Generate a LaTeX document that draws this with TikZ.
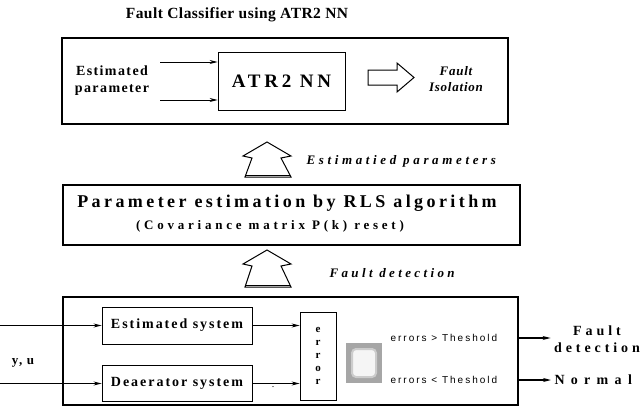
\documentclass[tikz,border=0pt]{standalone}
\usepackage{fontspec}
\setmainfont{Liberation Serif}
\newfontfamily\lsans{Liberation Sans}
\usetikzlibrary{arrows.meta}
\begin{document}
\begin{tikzpicture}[x=1pt,y=-1pt,
  outer/.style={draw,line width=2pt,inner sep=0pt},
  inner/.style={draw,line width=0.8pt,inner sep=0pt},
  lbl/.style 2 args={font=\fontsize{#1}{#1}\selectfont\bfseries\addfontfeatures{LetterSpace=#2}},
  ilbl/.style 2 args={font=\fontsize{#1}{#1}\selectfont\bfseries\itshape\addfontfeatures{LetterSpace=#2}},
  slbl/.style={font=\lsans\fontsize{10}{10}\selectfont\addfontfeatures{LetterSpace=20}},
  arr/.style={-{Stealth[length=8pt,width=4pt]},line width=0.8pt},
  hollow/.style={draw,line width=1pt,fill=white,line join=miter}]
\useasboundingbox (0,0) rectangle (641,413);
% fault classifier
\node[lbl={15.5}{3}] (title) at (237,15) {Fault Classifier using ATR2 NN};
\node[outer,minimum width=446pt,minimum height=86pt] (classifier) at (285,81) {};
\node[inner,minimum width=127pt,minimum height=58pt] (atr) at (281.5,81) {};
\node[lbl={19}{20}] (atrtxt) at (atr) {ATR2 NN};
\node[lbl={14}{10},align=center] (estpar) at (112,81) {Estimated\\[3pt]parameter};
\coordinate (a1) at (160,62);
\coordinate (a2) at (160,100);
\draw[arr] (a1) -- (a1 -| atr.west);
\draw[arr] (a2) -- (a2 -| atr.west);
\draw[hollow] (368,70) -- (397,70) -- (397,63) -- (414,77.5) -- (397,92) -- (397,85) -- (368,85) -- cycle;
\node[ilbl={13}{6},align=center] (isol) at (456,79) {Fault\\[3pt]Isolation};
% arrow to classifier
\draw[hollow] (267,142) -- (291,156) -- (281,158) -- (291,177) -- (245,177) -- (252,158) -- (243,156) -- cycle;
\draw[line width=1pt] (246,175) -- (290,175);
\node[ilbl={13}{28},anchor=west] (estlab) at (303,161) {Estimatied parameters};
% parameter estimation
\node[outer,minimum width=457pt,minimum height=60pt] (rls) at (291.5,215) {};
\node[lbl={18}{19}] (rls1) at (287,203) {Parameter estimation by RLS algorithm};
\node[lbl={13}{29}] (rls2) at (270,226) {(Covariance matrix P(k) reset)};
% arrow to estimator
\draw[hollow] (267,250) -- (291,264) -- (281,266) -- (291,287) -- (245,287) -- (252,266) -- (243,264) -- cycle;
\draw[line width=1pt] (246,285) -- (290,285);
\node[ilbl={13}{26},anchor=west] (detlab) at (326,273) {Fault detection};
% fault detection
\node[outer,minimum width=455pt,minimum height=108pt] (detect) at (290,351) {};
\node[inner,minimum width=150pt,minimum height=37pt] (estsys) at (177,325.5) {};
\node[lbl={14}{14}] at (estsys) {Estimated system};
\node[inner,minimum width=150pt,minimum height=36pt] (deasys) at (177,383.5) {};
\node[lbl={14}{14}] at (deasys) {Deaerator system};
\node[inner,minimum width=36pt,minimum height=88pt] (err) at (318,356) {};
\node[lbl={11}{0},align=center] at (err) {e\\[2pt]r\\[2pt]r\\[2pt]o\\[2pt]r};
\draw[arr] (estsys.east) -- (estsys.east -| err.west);
\draw[arr] (deasys.east) -- (deasys.east -| err.west);
\node[inner sep=0pt] (dot) at (273,387) {.};
\node[fill=gray!70,minimum width=36pt,minimum height=40pt,inner sep=0pt] (lamp) at (364,363) {};
\node[fill=gray!8,draw=gray!40,line width=2pt,rounded corners=4pt,minimum width=24pt,minimum height=28pt,inner sep=0pt] at (lamp) {};
\node[slbl,anchor=west] (gt) at (387,338) {errors > Theshold};
\node[slbl,anchor=west] (lt) at (387,380) {errors < Theshold};
\coordinate (y1) at (0,325.5);
\coordinate (y2) at (0,383.5);
\node[lbl={13}{10}] (yu) at (23,363) {y, u};
\draw[arr,line width=1.2pt] (y1) -- (estsys.west);
\draw[arr,line width=1.2pt] (y2) -- (deasys.west);
\node[lbl={14}{28},align=center] (fdet) at (597,339) {Fault\\[3pt]detection};
\node[lbl={14}{45},anchor=west] (normal) at (551,380) {Normal};
\draw[arr,line width=1.2pt] (gt -| detect.east) -- (gt -| fdet.west);
\draw[arr,line width=1.2pt] (lt -| detect.east) -- (normal.west);
\end{tikzpicture}
\end{document}
